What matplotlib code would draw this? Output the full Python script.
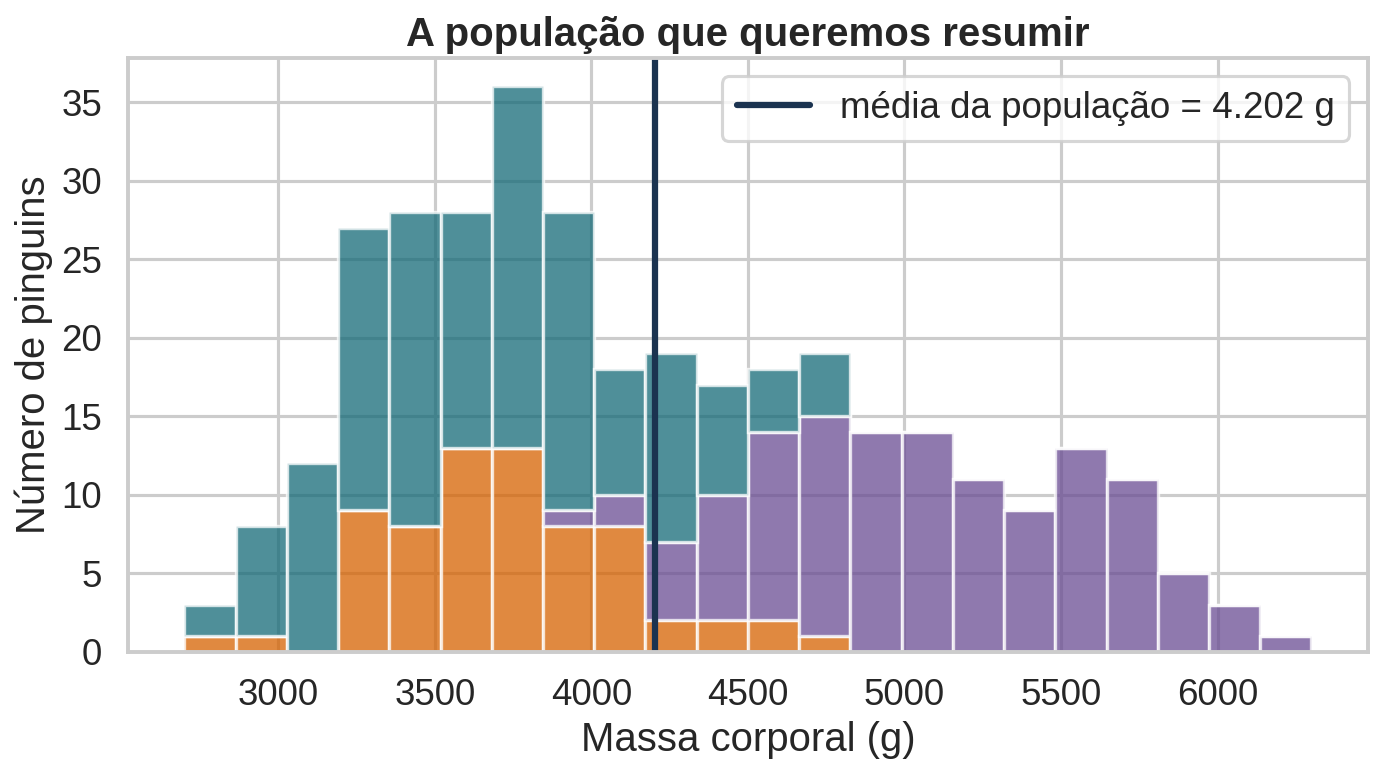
import numpy as np
import matplotlib
matplotlib.use("Agg")
import matplotlib.pyplot as plt
import seaborn as sns

# bins: 22 equal bins from 2700 to 6300 g
bin_start = 2700
bin_end = 6300
n_bins = 22

# counts per bin, stacked bottom -> top
chinstrap = [1, 1, 0, 9, 8, 13, 13, 8, 8, 2, 2, 2, 1, 0, 0, 0, 0, 0, 0, 0, 0, 0]
gentoo    = [0, 0, 0, 0, 0, 0, 0, 1, 2, 5, 8, 12, 14, 14, 14, 11, 9, 13, 11, 5, 3, 1]
adelie    = [2, 7, 12, 18, 20, 15, 23, 19, 8, 12, 7, 4, 4, 0, 0, 0, 0, 0, 0, 0, 0, 0]

pop_mean = 4201.75

sns.set_theme(style="whitegrid", context="talk", font_scale=1.07)
plt.rcParams['font.family'] = ['Liberation Sans', 'DejaVu Sans']

fig, ax = plt.subplots(figsize=(9.22, 5.16), dpi=150)
fig.subplots_adjust(left=0.0926, right=0.989, top=0.925, bottom=0.158)

edges = np.linspace(bin_start, bin_end, n_bins + 1)
width = edges[1] - edges[0]
left = edges[:-1]

c_chin = np.array(chinstrap)
c_gent = np.array(gentoo)
c_adel = np.array(adelie)

ax.bar(left, c_chin, width=width, align='edge', color='#d66200',
       alpha=0.75, edgecolor='white', linewidth=1.6)
ax.bar(left, c_gent, bottom=c_chin, width=width, align='edge',
       color='#6a4c93', alpha=0.75, edgecolor='white', linewidth=1.6)
ax.bar(left, c_adel, bottom=c_chin + c_gent, width=width, align='edge',
       color='#146a77', alpha=0.75, edgecolor='white', linewidth=1.6)

ax.axvline(pop_mean, color='#1b3350', lw=3,
           label='média da população = 4.202 g')

ax.set_title('A população que queremos resumir', fontweight='bold', pad=6)
ax.set_xlabel('Massa corporal (g)')
ax.set_ylabel('Número de pinguins')
ax.legend(loc='upper right')

fig.savefig('out.png', dpi=150)
